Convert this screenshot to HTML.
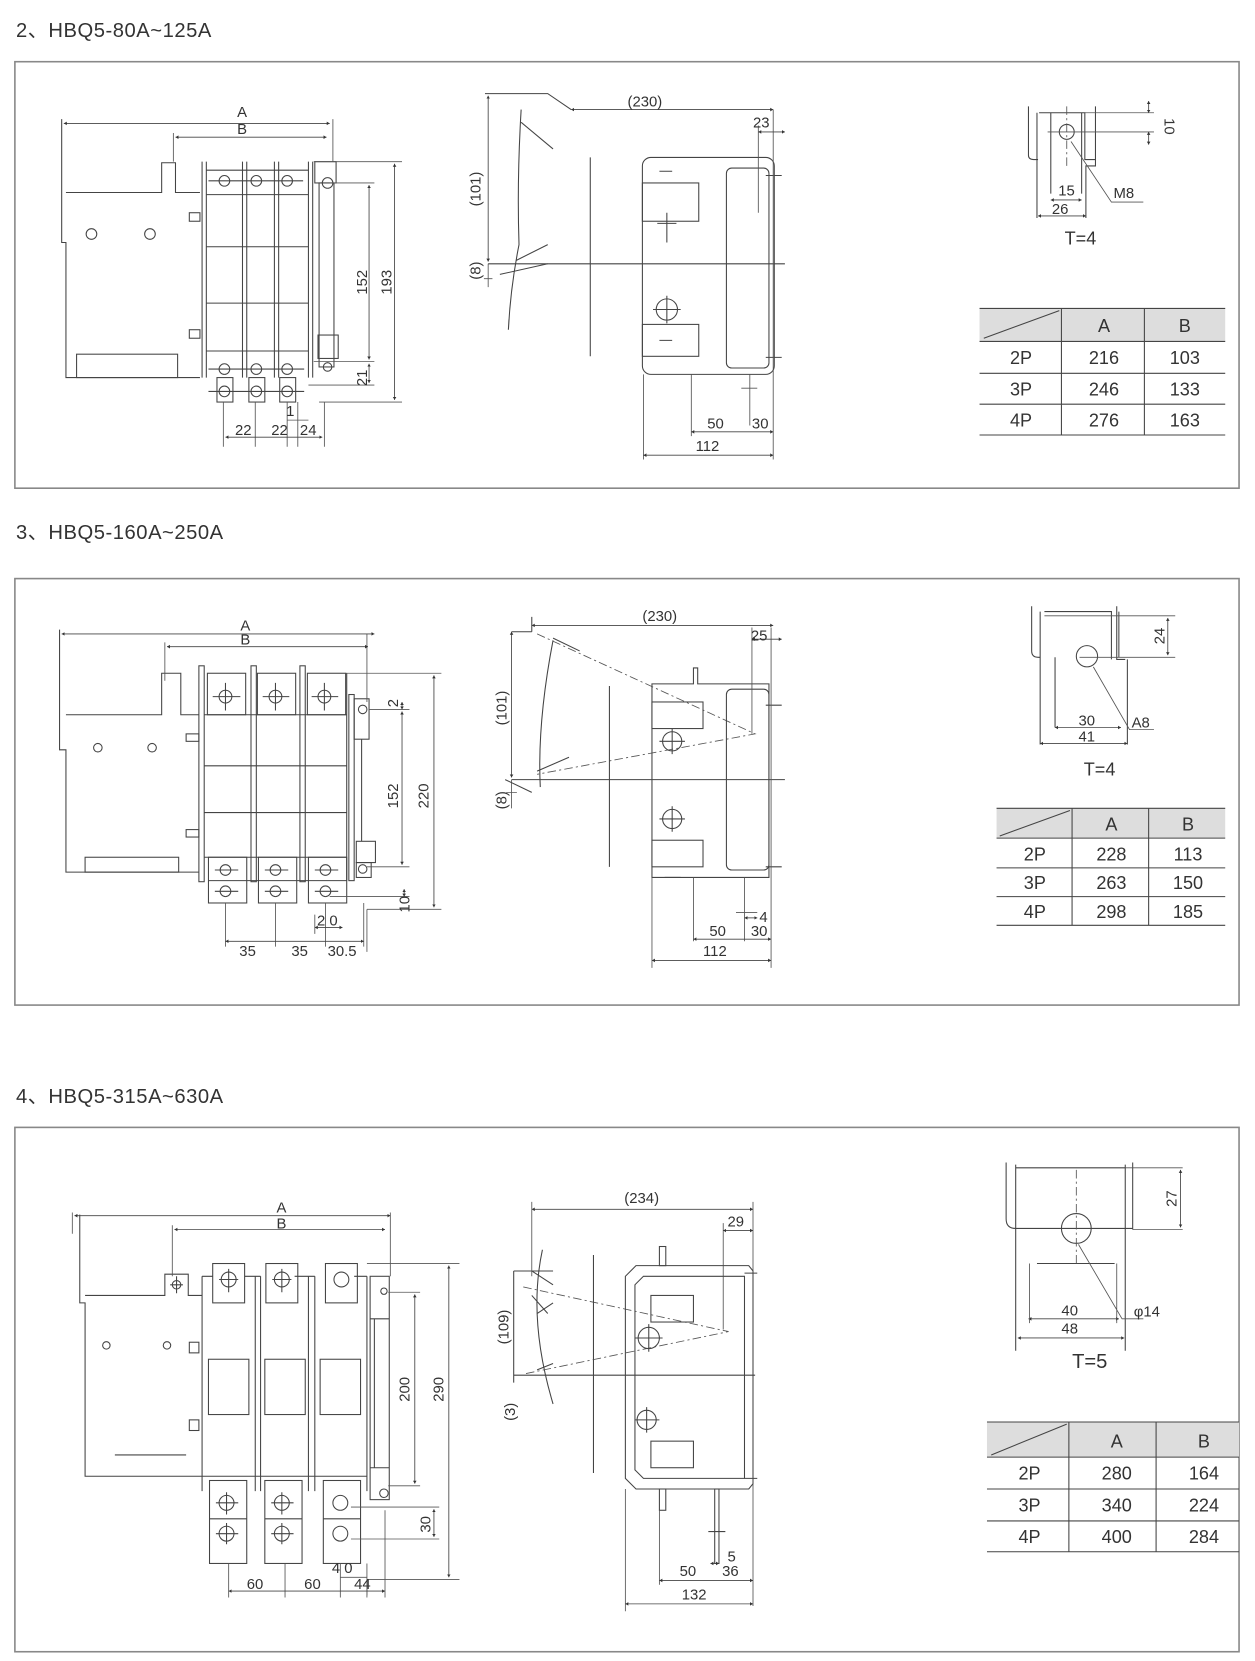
<!DOCTYPE html>
<html><head><meta charset="utf-8"><style>
html,body{margin:0;padding:0;background:#fff}
svg{display:block}
text{font-family:"Liberation Sans","Noto Sans CJK SC",sans-serif;fill:#333}
.l{stroke:#444;stroke-width:1;fill:none}
.t{stroke:#555;stroke-width:0.8;fill:none}
.d{stroke:#444;stroke-width:0.8;fill:none;marker-start:url(#a);marker-end:url(#a)}
.dd{stroke:#555;stroke-width:0.8;fill:none;stroke-dasharray:8 3 2 3}
.dim{font-size:14px}
.tb{font-size:17px}
.ti{font-size:19px;letter-spacing:0.5px}
</style></head><body>
<svg width="1255" height="1661" viewBox="0 0 1180 1561.7" xmlns="http://www.w3.org/2000/svg">
<defs><marker id="a" viewBox="0 0 10 10" refX="5" refY="5" markerWidth="7" markerHeight="7" orient="auto-start-reverse"><path d="M0,2 L5,5 L0,8 Z" fill="#333"/></marker></defs>

<!-- ============ SECTION 1 ============ -->
<text class="ti" x="15" y="35">2、HBQ5-80A~125A</text>
<rect x="14" y="58" width="1151" height="401" fill="none" stroke="#888" stroke-width="1.5"/>

<g class="l">
<path d="M58,112 V228 H62 V355 H188"/>
<path d="M62,181 H152 V153 H165 V181 H188"/>
<circle cx="86" cy="220" r="5"/><circle cx="141" cy="220" r="5"/>
<rect x="72" y="333" width="95" height="22"/>
<rect x="178" y="200" width="10" height="8"/><rect x="178" y="310" width="10" height="8"/>
<path d="M190,152 V355 M194,152 V355 M228,152 V355 M232,152 V355 M258,152 V355 M262,152 V355 M290,152 V355 M294,152 V355"/>
<path d="M194,183 H290 M194,232 H290 M194,285 H290 M194,330 H290 M194,160 H290"/>
<rect x="296" y="152" width="20" height="20"/><rect x="300" y="172" width="14" height="173"/>
<rect x="299" y="315" width="19" height="22"/>
<circle cx="308" cy="172" r="5"/>
<circle cx="211" cy="170" r="5"/><circle cx="241" cy="170" r="5"/><circle cx="270" cy="170" r="5"/>
<circle cx="211" cy="347" r="5"/><circle cx="241" cy="347" r="5"/><circle cx="270" cy="347" r="5"/>
<circle cx="211" cy="368" r="5"/><circle cx="241" cy="368" r="5"/><circle cx="270" cy="368" r="5"/>
<circle cx="308" cy="345" r="4"/>
<rect x="204" y="355" width="15" height="23"/><rect x="234" y="355" width="15" height="23"/><rect x="263" y="355" width="15" height="23"/>
<path d="M196,170 H226 M226,170 H256 M256,170 H285 M196,347 H286 M196,368 H286"/>
</g>
<g class="t">
<path d="M313,112 V152 M163,125 V152 M295,152 H378 M310,172 H352 M295,340 H352 M290,362 H352 M300,378 H378"/>
<path d="M210,378 V420 M240,378 V420 M270,378 V420 M280,378 V420 M305,378 V420"/>
</g>
<path class="d" d="M60,116 H310"/><text class="dim" x="223" y="110">A</text>
<path class="d" d="M165,129 H307"/><text class="dim" x="223" y="126">B</text>
<path class="d" d="M347,174 V338"/><text class="dim" transform="translate(345,277) rotate(-90)">152</text>
<path class="d" d="M371,154 V376"/><text class="dim" transform="translate(368,277) rotate(-90)">193</text>
<path class="d" d="M347,342 V360"/><text class="dim" transform="translate(345,363) rotate(-90)">21</text>
<path class="d" d="M212,411 H303"/>
<text class="dim" x="221" y="409">22</text><text class="dim" x="255" y="409">22</text><text class="dim" x="282" y="409">24</text>
<text class="dim" x="269" y="391">1</text><path class="t" d="M270,395 H290"/>

<path class="d" d="M459,90 V246"/><text class="dim" transform="translate(452,194) rotate(-90)">(101)</text>
<path class="t" d="M459,248 V270 M455,262 H463"/><text class="dim" transform="translate(452,263) rotate(-90)">(8)</text>
<path class="l" d="M456,88 H515 L537,103 M490,103 Q486,170 488,230 Q480,270 478,310 M490,115 L520,140 M485,245 L515,230 M470,258 L515,248"/>
<path class="d" d="M537,103 H727"/><text class="dim" x="590" y="100">(230)</text>
<path class="l" d="M555,148 V335 M459,248 H738"/>
<rect class="l" x="604" y="148" width="124" height="204" rx="8"/>
<rect class="l" x="683" y="158" width="40" height="188" rx="5"/>
<rect class="l" x="604" y="172" width="53" height="36"/>
<rect class="l" x="604" y="305" width="53" height="30"/>
<circle class="l" cx="627" cy="291" r="10"/><path class="l" d="M614,291 H640 M627,278 V304 M620,161 H632 M620,320 H632 M618,210 H636 M627,200 V228 M720,165 H735 M720,336 H735"/>
<path class="t" d="M713,118 V200 M727,103 V432 M605,352 V432 M650,352 V410 M705,352 V400 M697,365 H712"/>
<path class="d" d="M713,124 H738"/><text class="dim" x="708" y="120">23</text>
<path class="d" d="M650,406 H727"/><text class="dim" x="665" y="403">50</text><text class="dim" x="707" y="403">30</text>
<path class="d" d="M605,428 H727"/><text class="dim" x="654" y="424">112</text>

<path class="l" d="M967,100 V146 Q967,150 972,150 H976 M975,106 V205 M977,106 H1020 V150 H1030 V156 H1021 V205 M1030,100 V156 M988,106 V182 M1017,106 V182"/>
<circle class="l" cx="1003" cy="124" r="7"/>
<path class="dd" d="M1003,100 V158"/>
<path class="t" d="M1020,106 H1085 M985,124 H1085"/>
<path class="d" d="M1080,95 V106"/><path class="d" d="M1080,136 V124"/>
<text class="dim" transform="translate(1095,111) rotate(90)">10</text>
<path class="d" d="M988,188 H1017"/><text class="dim" x="995" y="184">15</text>
<path class="d" d="M976,203 H1021"/><text class="dim" x="989" y="201">26</text>
<path class="t" d="M1007,133 L1045,190 H1075"/><text class="dim" x="1047" y="186">M8</text>
<text x="1001" y="230" font-size="17">T=4</text>

<rect x="921" y="290" width="231" height="31" fill="#ddd"/>
<path class="l" d="M921,290 H1152 M921,321 H1152 M921,351 H1152 M921,380 H1152 M921,409 H1152 M998,290 V409 M1076,290 V409 M925,318 L996,292" stroke-width="1.3"/>
<g class="tb" text-anchor="middle">
<text x="1038" y="312">A</text><text x="1114" y="312">B</text>
<text x="960" y="342">2P</text><text x="1038" y="342">216</text><text x="1114" y="342">103</text>
<text x="960" y="372">3P</text><text x="1038" y="372">246</text><text x="1114" y="372">133</text>
<text x="960" y="401">4P</text><text x="1038" y="401">276</text><text x="1114" y="401">163</text>
</g>

<!-- ============ SECTION 2 ============ -->
<text class="ti" x="15" y="507">3、HBQ5-160A~250A</text>
<rect x="14" y="544" width="1151" height="401" fill="none" stroke="#888" stroke-width="1.5"/>

<g class="l">
<path d="M56,592 V705 H62 V820 H187"/>
<path d="M62,672 H152 V633 H170 V672 H187"/>
<circle cx="92" cy="703" r="4"/><circle cx="143" cy="703" r="4"/>
<rect x="80" y="806" width="88" height="14"/>
<rect x="175" y="690" width="12" height="7"/><rect x="175" y="780" width="12" height="7"/>
<rect x="187" y="626" width="5" height="203"/><rect x="236" y="626" width="5" height="203"/><rect x="282" y="626" width="5" height="203"/>
<path d="M192,672 H326 M192,720 H326 M192,764 H326 M192,806 H326 M326,633 V828"/>
<rect x="195" y="633" width="36" height="39"/><rect x="242" y="633" width="36" height="39"/><rect x="289" y="633" width="36" height="39"/>
<circle cx="212" cy="655" r="6"/><circle cx="259" cy="655" r="6"/><circle cx="305" cy="655" r="6"/>
<path d="M200,655 H226 M212,642 V668 M247,655 H272 M259,642 V668 M293,655 H318 M305,642 V668"/>
<rect x="196" y="806" width="36" height="43"/><rect x="243" y="806" width="36" height="43"/><rect x="290" y="806" width="36" height="43"/>
<path d="M196,828 H326"/>
<circle cx="212" cy="818" r="5"/><circle cx="212" cy="838" r="5"/><circle cx="259" cy="818" r="5"/><circle cx="259" cy="838" r="5"/><circle cx="306" cy="818" r="5"/><circle cx="306" cy="838" r="5"/>
<path d="M202,818 H224 M202,838 H224 M249,818 H271 M249,838 H271 M296,818 H318 M296,838 H318"/>
<rect x="328" y="653" width="5" height="175"/><rect x="333" y="657" width="14" height="38"/>
<rect x="335" y="791" width="18" height="20"/><rect x="335" y="811" width="14" height="14"/>
<path d="M340,695 V791"/>
<circle cx="341" cy="667" r="4"/><circle cx="341" cy="817" r="4"/>
</g>
<g class="t">
<path d="M345,596 V660 M155,604 V640 M325,633 H415 M347,667 H385 M345,815 H385 M310,843 H385 M345,855 H415 M345,855 V895"/>
<path d="M212,849 V890 M259,849 V890 M306,849 V890 M342,849 V890 M296,860 V878"/>
</g>
<path class="d" d="M58,596 H352"/><text class="dim" x="226" y="593">A</text>
<path class="d" d="M157,608 H346"/><text class="dim" x="226" y="606">B</text>
<path class="d" d="M378,660 V667"/><text class="dim" transform="translate(374,665) rotate(-90)">2</text>
<path class="d" d="M378,669 V813"/><text class="dim" transform="translate(374,760) rotate(-90)">152</text>
<path class="d" d="M408,635 V853"/><text class="dim" transform="translate(403,760) rotate(-90)">220</text>
<path class="d" d="M380,836 V843"/><text class="dim" transform="translate(385,858) rotate(-90)">10</text>
<path class="d" d="M296,872 H322"/><text class="dim" x="298" y="870">2 0</text>
<path class="d" d="M212,885 H342"/><text class="dim" x="225" y="899">35</text><text class="dim" x="274" y="899">35</text><text class="dim" x="308" y="899">30.5</text>

<path class="d" d="M481,594 V731"/><text class="dim" transform="translate(476,682) rotate(-90)">(101)</text>
<path class="t" d="M481,733 V760 M476,745 H486"/><text class="dim" transform="translate(476,761) rotate(-90)">(8)</text>
<path class="l" d="M500,580 V594 M481,594 H500 M520,602 Q505,680 508,740 M475,733 L500,745"/>
<path class="d" d="M500,588 H727"/><text class="dim" x="604" y="584">(230)</text>
<path class="dd" d="M505,596 L710,690 L505,728"/>
<path class="l" d="M520,600 L545,612 M505,725 L535,712 M573,645 V815 M481,733 H738"/>
<path class="l" d="M613,643 H652 V628 H656 V643 H723 V825 H613 Z"/>
<rect class="l" x="683" y="648" width="40" height="170" rx="5"/>
<rect class="l" x="613" y="660" width="48" height="25"/><rect class="l" x="613" y="790" width="48" height="25"/>
<circle class="l" cx="632" cy="697" r="9"/><circle class="l" cx="632" cy="770" r="9"/>
<path class="l" d="M620,697 H644 M632,685 V709 M620,770 H644 M632,758 V782 M720,663 H735 M720,815 H735 M625,825 H640"/>
<path class="t" d="M707,590 V690 M725,590 V910 M613,825 V910 M652,825 V885 M700,825 V885 M692,858 H712"/>
<path class="d" d="M707,601 H735"/><text class="dim" x="706" y="602">25</text>
<path class="d" d="M700,863 H712"/><text class="dim" x="714" y="867">4</text>
<path class="d" d="M652,883 H725"/><text class="dim" x="667" y="880">50</text><text class="dim" x="706" y="880">30</text>
<path class="d" d="M613,903 H725"/><text class="dim" x="661" y="899">112</text>

<path class="l" d="M970,570 V612 Q970,618 976,618 H978 M978,575 V700 M982,575 H1045 V620 M1050,570 V620 H1058 M1060,620 V700 M1052,575 V618 M992,618 V684"/>
<circle class="l" cx="1022" cy="617" r="10"/>
<path class="t" d="M982,579 H1105 M1015,618 H1105"/>
<path class="d" d="M1098,581 V616"/><text class="dim" transform="translate(1095,598) rotate(-90)" text-anchor="middle">24</text>
<path class="d" d="M992,684 H1054"/><text class="dim" x="1014" y="682">30</text>
<path class="d" d="M978,699 H1060"/><text class="dim" x="1014" y="697">41</text>
<path class="t" d="M1028,627 L1062,686 H1085"/><text class="dim" x="1064" y="684">A8</text>
<text x="1019" y="729" font-size="17">T=4</text>

<rect x="937" y="760" width="215" height="28" fill="#ddd"/>
<path class="l" d="M937,760 H1152 M937,788 H1152 M937,816 H1152 M937,843 H1152 M937,870 H1152 M1008,760 V870 M1080,760 V870 M940,786 L1006,762" stroke-width="1.3"/>
<g class="tb" text-anchor="middle">
<text x="1045" y="781">A</text><text x="1117" y="781">B</text>
<text x="973" y="809">2P</text><text x="1045" y="809">228</text><text x="1117" y="809">113</text>
<text x="973" y="836">3P</text><text x="1045" y="836">263</text><text x="1117" y="836">150</text>
<text x="973" y="863">4P</text><text x="1045" y="863">298</text><text x="1117" y="863">185</text>
</g>

<!-- ============ SECTION 3 ============ -->
<text class="ti" x="15" y="1037">4、HBQ5-315A~630A</text>
<rect x="14" y="1060" width="1151" height="493" fill="none" stroke="#888" stroke-width="1.5"/>

<g class="l">
<path d="M75,1142 V1225 H80 V1388 H190"/>
<path d="M80,1218 H155 V1198 H177 V1218 H190"/>
<circle cx="166" cy="1208" r="4"/><path d="M160,1208 H172 M166,1200 V1216"/>
<circle cx="100" cy="1265" r="3.5"/><circle cx="157" cy="1265" r="3.5"/>
<path d="M108,1368 H175"/>
<rect x="178" y="1262" width="9" height="10"/><rect x="178" y="1335" width="9" height="10"/>
<path d="M190,1200 V1402 M240,1200 V1402 M245,1200 V1402 M290,1200 V1402 M296,1200 V1402 M345,1200 V1402"/>
<path d="M190,1200 H200 M230,1200 H245 M277,1200 H296 M333,1200 H345 M190,1388 H345"/>
<rect x="200" y="1188" width="30" height="37"/><rect x="250" y="1188" width="30" height="37"/><rect x="306" y="1188" width="30" height="37"/>
<circle cx="215" cy="1203" r="7"/><circle cx="265" cy="1203" r="7"/><circle cx="321" cy="1203" r="7"/>
<path d="M206,1203 H224 M215,1193 V1215 M256,1203 H274 M265,1193 V1215"/>
<rect x="196" y="1278" width="38" height="52"/><rect x="249" y="1278" width="38" height="52"/><rect x="301" y="1278" width="38" height="52"/>
<rect x="197" y="1392" width="35" height="78"/><rect x="249" y="1392" width="35" height="78"/><rect x="304" y="1392" width="35" height="78"/>
<path d="M197,1428 H232 M249,1428 H284 M304,1428 H339"/>
<circle cx="213" cy="1413" r="7"/><circle cx="213" cy="1442" r="7"/><circle cx="265" cy="1413" r="7"/><circle cx="265" cy="1442" r="7"/><circle cx="320" cy="1413" r="7"/><circle cx="320" cy="1442" r="7"/>
<path d="M203,1413 H224 M213,1403 V1424 M203,1442 H224 M213,1432 V1452 M255,1413 H276 M265,1403 V1424 M255,1442 H276 M265,1432 V1452"/>
<rect x="348" y="1200" width="18" height="210"/><path d="M352,1240 V1380 M348,1240 H366 M348,1380 H366"/>
<circle cx="361" cy="1214" r="3"/><circle cx="361" cy="1404" r="4"/>
</g>
<g class="t">
<path d="M68,1140 V1160 M162,1152 V1200 M367,1140 V1200 M345,1188 H432 M365,1215 H395 M365,1397 H395 M330,1417 H413 M330,1447 H413 M345,1485 H432 M345,1485 V1500"/>
<path d="M215,1470 V1502 M268,1470 V1502 M320,1470 V1502 M345,1470 V1502 M362,1420 V1502"/>
</g>
<path class="d" d="M70,1143 H367"/><text class="dim" x="260" y="1140">A</text>
<path class="d" d="M164,1156 H362"/><text class="dim" x="260" y="1155">B</text>
<path class="d" d="M390,1217 V1395"/><text class="dim" transform="translate(385,1318) rotate(-90)">200</text>
<path class="d" d="M422,1190 V1483"/><text class="dim" transform="translate(417,1318) rotate(-90)">290</text>
<path class="d" d="M408,1419 V1445"/><text class="dim" transform="translate(405,1441) rotate(-90)">30</text>
<text class="dim" x="312" y="1479">4 0</text><path class="t" d="M320,1483 H345"/>
<path class="d" d="M215,1496 H362"/><text class="dim" x="232" y="1494">60</text><text class="dim" x="286" y="1494">60</text><text class="dim" x="333" y="1494">44</text>

<path class="l" d="M483,1195 V1300 M483,1195 H520 M483,1293 H710 M510,1175 Q496,1240 520,1320 M500,1195 L520,1208 M500,1218 L515,1235 M505,1235 L520,1225 M505,1288 L520,1282"/>
<text class="dim" transform="translate(478,1264) rotate(-90)">(109)</text>
<text class="dim" transform="translate(484,1336) rotate(-90)">(3)</text>
<path class="d" d="M500,1137 H708"/><text class="dim" x="587" y="1131">(234)</text>
<path class="t" d="M500,1130 V1200 M680,1150 V1250 M708,1130 V1510"/>
<path class="d" d="M680,1157 H708"/><text class="dim" x="684" y="1153">29</text>
<path class="dd" d="M492,1210 L685,1252 L492,1292"/>
<path class="l" d="M558,1180 V1385"/>
<path class="l" d="M598,1190 H704 L708,1195 V1395 L704,1400 H598 L588,1390 V1200 Z"/>
<path class="l" d="M605,1200 H700 V1390 H605 L597,1382 V1208 Z"/>
<rect class="l" x="620" y="1172" width="6" height="18"/><rect class="l" x="620" y="1400" width="6" height="20"/><rect class="l" x="672" y="1400" width="4" height="70"/>
<rect class="l" x="612" y="1218" width="40" height="25"/><rect class="l" x="612" y="1355" width="40" height="25"/>
<circle class="l" cx="610" cy="1258" r="10"/><circle class="l" cx="608" cy="1335" r="9"/>
<path class="l" d="M597,1258 H623 M610,1245 V1271 M597,1335 H620 M608,1323 V1347 M700,1197 H712 M700,1390 H712 M666,1440 H682"/>
<path class="t" d="M588,1400 V1515 M620,1420 V1490"/>
<path class="d" d="M668,1470 H676"/><text class="dim" x="684" y="1468">5</text>
<path class="d" d="M620,1486 H708"/><text class="dim" x="639" y="1482">50</text><text class="dim" x="679" y="1482">36</text>
<path class="d" d="M588,1508 H708"/><text class="dim" x="641" y="1504">132</text>

<path class="l" d="M946,1093 V1146 Q946,1155 955,1155 M955,1095 V1270 M955,1098 H1058 M1058,1095 V1270 M1065,1093 V1156 M975,1188 H1048 M955,1155 H1065"/>
<circle class="l" cx="1012" cy="1155" r="14"/>
<path class="dd" d="M1012,1100 V1190"/>
<path class="t" d="M1058,1098 H1112 M1065,1156 H1112"/>
<path class="d" d="M1110,1100 V1154"/><text class="dim" transform="translate(1106,1127) rotate(-90)" text-anchor="middle" font-size="15">27</text>
<path class="d" d="M967,1240 H1052"/><text class="dim" x="998" y="1237" font-size="15">40</text>
<path class="d" d="M957,1258 H1057"/><text class="dim" x="998" y="1254" font-size="15">48</text>
<path class="t" d="M1014,1170 L1055,1240 H1075 M968,1188 V1244 M1050,1188 V1244"/><text class="dim" x="1066" y="1238" font-size="15">φ14</text>
<text x="1008" y="1286" font-size="19">T=5</text>

<rect x="928" y="1337" width="237" height="33" fill="#ddd"/>
<path class="l" d="M928,1337 H1165 M928,1370 H1165 M928,1400 H1165 M928,1430 H1165 M928,1459 H1165 M1005,1337 V1459 M1087,1337 V1459 M932,1368 L1003,1339" stroke-width="1.3"/>
<g class="tb" text-anchor="middle">
<text x="1050" y="1361">A</text><text x="1132" y="1361">B</text>
<text x="968" y="1391">2P</text><text x="1050" y="1391">280</text><text x="1132" y="1391">164</text>
<text x="968" y="1421">3P</text><text x="1050" y="1421">340</text><text x="1132" y="1421">224</text>
<text x="968" y="1451">4P</text><text x="1050" y="1451">400</text><text x="1132" y="1451">284</text>
</g>
</svg>
</body></html>
